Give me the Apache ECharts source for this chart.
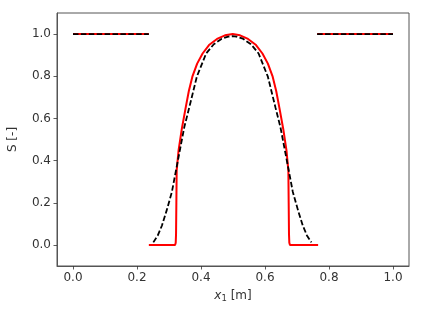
<!DOCTYPE html>
<html>
<head>
<meta charset="utf-8">
<script src="https://cdn.jsdelivr.net/npm/echarts@6/dist/echarts.min.js"></script>
<style>
  html, body { margin: 0; padding: 0; background: #fff; }
  #chart { width: 423px; height: 317px; }
</style>
</head>
<body>
<div id="chart"></div>
<script>
// null in a y array breaks the line
const redX = [0, 0.237, 0.237,
  0.237, 0.319, 0.321, 0.322, 0.323, 0.324, 0.330, 0.340, 0.352, 0.362, 0.373, 0.388, 0.405, 0.425, 0.450, 0.475, 0.499,
  0.522, 0.547, 0.572, 0.592, 0.609, 0.624, 0.635, 0.645, 0.657, 0.667, 0.673, 0.674, 0.675, 0.676, 0.678, 0.766,
  0.766, 0.763, 1.0]
const redY = [1, 1, null,
  0, 0, 0.01, 0.05, 0.2, 0.354, 0.45, 0.55, 0.65, 0.73, 0.798, 0.86, 0.908, 0.948, 0.977, 0.994, 1.0,
  0.994, 0.977, 0.948, 0.908, 0.86, 0.798, 0.73, 0.65, 0.55, 0.45, 0.354, 0.2, 0.05, 0.01, 0, 0,
  null, 1, 1]

const blackX = [0, 0.237, 0.237,
  0.251, 0.265, 0.278, 0.293, 0.309, 0.329, 0.348, 0.363, 0.387, 0.416, 0.440, 0.465, 0.485, 0.498,
  0.511, 0.531, 0.556, 0.580, 0.609, 0.633, 0.648, 0.667, 0.687, 0.703, 0.718, 0.731, 0.745,
  0.745, 0.763, 1.0]
const blackY = [1, 1, null,
  0.012, 0.045, 0.092, 0.165, 0.251, 0.41, 0.56, 0.65, 0.798, 0.908, 0.952, 0.978, 0.988, 0.99,
  0.988, 0.978, 0.952, 0.908, 0.798, 0.65, 0.56, 0.41, 0.251, 0.165, 0.092, 0.045, 0.012,
  null, 1, 1]

const xTicks = [0, 0.2, 0.4, 0.6, 0.8, 1.0]
const yTicks = [0, 0.2, 0.4, 0.6, 0.8, 1.0]

function pairs(xs, ys) {
  return xs.map((x, i) => (ys[i] === null ? [x, '-'] : [x, ys[i]]))
}

const font = 'DejaVu Sans'
const chart = echarts.init(document.getElementById('chart'), null, { renderer: 'canvas' })

const axisCommon = {
  type: 'value',
  axisLine: { show: true, onZero: false, lineStyle: { color: '#555', width: 1 } },
  axisTick: { show: true, length: 3.5, inside: false, lineStyle: { color: '#333', width: 0.8 } },
  splitLine: { show: false },
  nameTextStyle: { fontFamily: font, fontSize: 12, color: '#333' }
}

chart.setOption({
  animation: false,
  backgroundColor: '#fff',
  grid: {
    left: 57, right: 14, top: 13, bottom: 51,
    show: true, borderColor: '#555', borderWidth: 1,
    outerBoundsMode: 'none'
  },
  xAxis: {
    ...axisCommon,
    min: -0.05,
    max: 1.05,
    axisTick: { ...axisCommon.axisTick, customValues: xTicks },
    axisLabel: {
      customValues: xTicks,
      formatter: (v) => v.toFixed(1),
      fontFamily: font, fontSize: 12, color: '#333', margin: 6
    },
    name: '{i|x}{s|1} [m]',
    nameLocation: 'middle',
    nameGap: 22,
    nameTextStyle: {
      fontFamily: font, fontSize: 12, color: '#333',
      rich: {
        i: { fontFamily: font, fontSize: 12, fontStyle: 'italic', color: '#333' },
        s: { fontFamily: font, fontSize: 8.5, color: '#333', verticalAlign: 'bottom', padding: [6, 0, 0, 0] }
      }
    }
  },
  yAxis: {
    ...axisCommon,
    min: -0.1,
    max: 1.1,
    axisTick: { ...axisCommon.axisTick, customValues: yTicks },
    axisLabel: {
      customValues: yTicks,
      formatter: (v) => v.toFixed(1),
      fontFamily: font, fontSize: 12, color: '#333', margin: 6
    },
    name: 'S [-]',
    nameLocation: 'middle',
    nameGap: 38,
    nameRotate: 90
  },
  series: [
    {
      type: 'line',
      data: pairs(redX, redY),
      showSymbol: false,
      connectNulls: false,
      lineStyle: { color: '#ff0000', width: 2 },
      z: 2
    },
    {
      type: 'line',
      data: pairs(blackX, blackY),
      showSymbol: false,
      connectNulls: false,
      lineStyle: { color: '#000', width: 1.8, type: [5.5, 2.4] },
      z: 3
    }
  ]
})
</script>
</body>
</html>
